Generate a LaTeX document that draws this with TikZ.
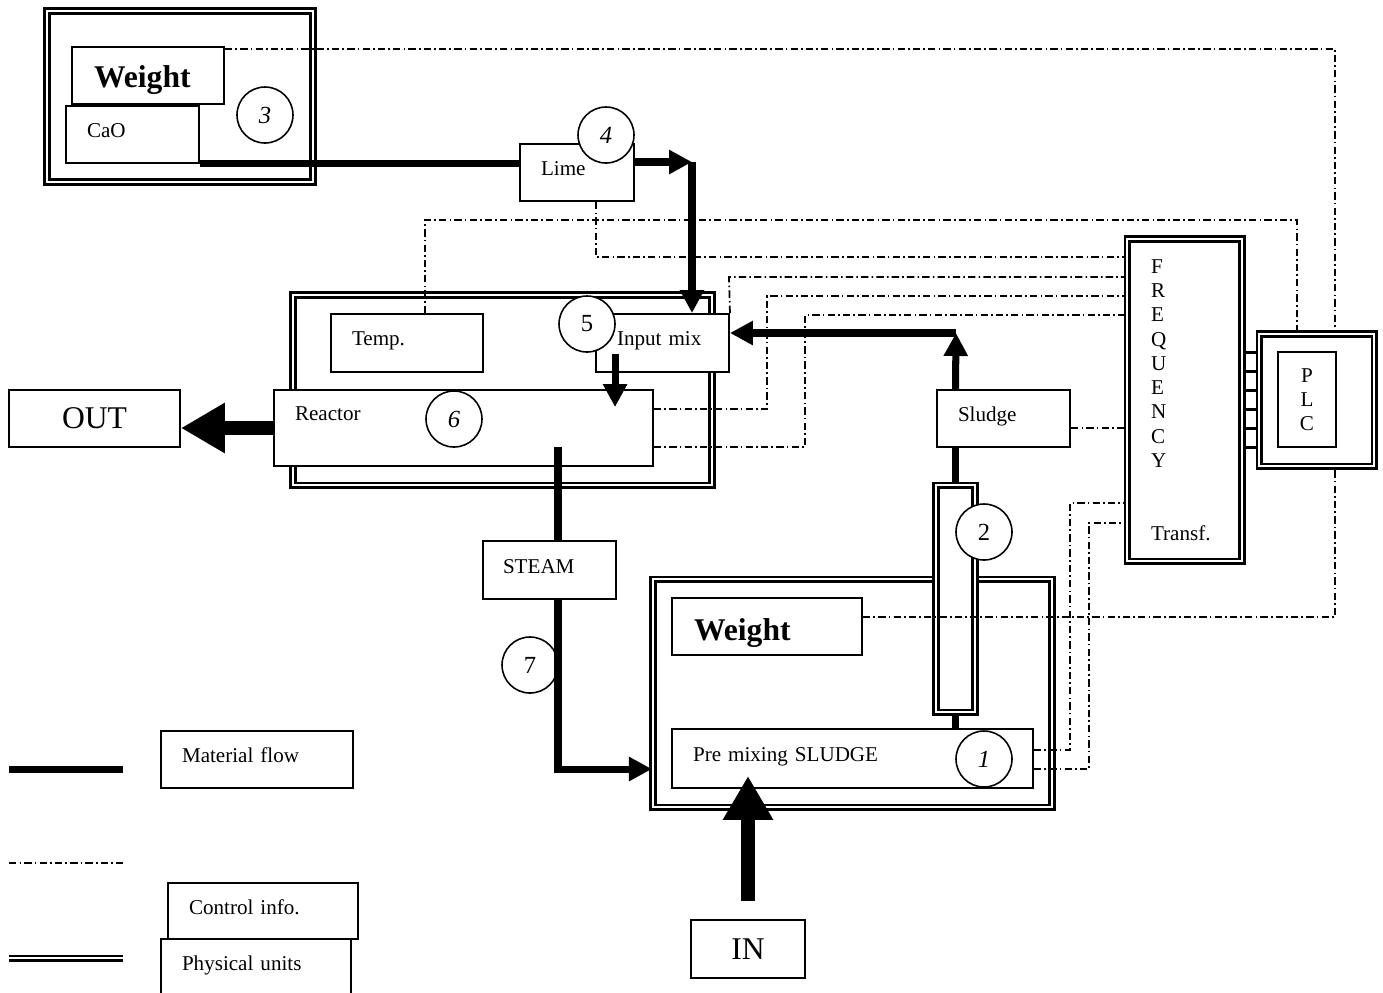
\documentclass[tikz,border=0pt]{standalone}
\usepackage{fontspec}
\setmainfont{Liberation Serif}
\usetikzlibrary{arrows.meta,calc}
\def \px {0.02cm}
\tikzstyle{unit} = [draw,line width=1.2pt,double,double distance=1.6pt]
\tikzstyle{box} = [draw,fill=white,line width=1.1pt,inner ysep=0pt,font=\fontsize{12}{13.8}\selectfont]
\tikzstyle{txtbox} = [box,align=left,inner xsep=0.42cm,text height=9pt,text depth=5.6pt]
\tikzstyle{num} = [draw,circle,fill=white,line width=0.9pt,minimum size=56*\px,inner sep=0pt,font=\fontsize{14}{16}\selectfont]
\tikzstyle{flow} = [line width=4pt]
\tikzstyle{bigflow} = [line width=8.5pt,-{Triangle[length=0.88cm,width=0.95cm]}]
\tikzstyle{ctrl} = [line width=1pt,dash pattern=on 4.2pt off 1.8pt on 0.9pt off 1.8pt]
\tikzstyle{wire} = [line width=1.3pt]

\begin{document}
\begin{tikzpicture}[x=\px,y=-\px,>={Triangle[length=0.46cm,width=0.46cm]}]
      \useasboundingbox (0,0) rectangle (1383,992);
      \node[unit,minimum width=266*\px,minimum height=171*\px] (caounit) at (180,96.5) {};
      \node[unit,minimum width=419*\px,minimum height=190*\px] (reacunit) at (502.5,390) {};
      \node[unit,minimum width=399*\px,minimum height=228*\px] (mixunit) at (852.5,693) {};
      \node[unit,fill=white,minimum width=39*\px,minimum height=227*\px] (column) at (955.5,598.5) {};
      \node[unit,fill=white,align=left,text width=1.34cm,inner xsep=0.48cm,minimum height=322*\px,font=\fontsize{12}{13.8}\selectfont] (fbox) at (1184.5,400) {F\\R\\E\\Q\\U\\E\\N\\C\\Y\\[27.6pt]Transf.};
      \node[unit,minimum width=115*\px,minimum height=132*\px] (plcunit) at (1316.5,400) {};
      \node[box,align=center,minimum width=58*\px,minimum height=95*\px,font=\fontsize{12}{13.6}\selectfont] (plc) at (1307,399.5) {P\\L\\C};
      \node[txtbox,text width=2.16cm,inner xsep=0.44cm,minimum height=57*\px,font=\fontsize{18}{20}\selectfont\bfseries,text height=13.7pt,text depth=0pt] (weighta) at (148,75.5) {Weight};
      \node[txtbox,text width=1.82cm,minimum height=57*\px] (cao) at (132.5,134.5) {CaO};
      \node[txtbox,text width=1.44cm,minimum height=57*\px] (lime) at (577,172.5) {Lime};
      \node[txtbox,text width=2.2cm,minimum height=58*\px] (temp) at (407,343) {Temp.};
      \node[txtbox,text width=1.82cm,minimum height=58*\px] (inputmix) at (662.5,343) {Input mix};
      \node[txtbox,text width=6.74cm,minimum height=76*\px,text depth=17pt] (reactor) at (463.5,428) {Reactor};
      \node[box,minimum width=171*\px,minimum height=57*\px,font=\fontsize{18}{20}\selectfont] (out) at (94.5,418.5) {OUT};
      \node[txtbox,text width=1.82cm,minimum height=57*\px] (sludge) at (1003.5,418.5) {Sludge};
      \node[txtbox,text width=1.86cm,inner xsep=0.4cm,minimum height=58*\px] (steam) at (549.5,570) {STEAM};
      \node[txtbox,text width=2.92cm,inner xsep=0.44cm,minimum height=57*\px,font=\fontsize{18}{20}\selectfont\bfseries,text height=16pt,text depth=0pt] (weightb) at (767,626.5) {Weight};
      \node[txtbox,text width=6.38cm,minimum height=59*\px] (premix) at (852.5,758.5) {Pre mixing SLUDGE};
      \node[box,minimum width=114*\px,minimum height=58*\px,font=\fontsize{18}{20}\selectfont] (in) at (748,949) {IN};
      \node[txtbox,text width=3.0cm,minimum height=57*\px] (matflow) at (257,759.5) {Material flow};
      \node[txtbox,text width=2.96cm,minimum height=56*\px] (ctrlinfo) at (263,911) {Control info.};
      \node[txtbox,text width=2.96cm,minimum height=57*\px] (physunits) at (256,967.5) {Physical units};
      \node[num] (n3) at (265,115) {\itshape 3};
      \node[num] (n4) at (606,135) {\itshape 4};
      \node[num] (n5) at (587,324) {5};
      \node[num] (n6) at (454,419) {\itshape 6};
      \node[num] (n7) at (530,665) {7};
      \node[num] (n2) at (984,532) {2};
      \node[num] (n1) at (984,759) {\itshape 1};
      \coordinate (limebend) at (692,162);
      \coordinate (steamtop) at (558,447);
      \coordinate (steambend) at (558,769);
      \coordinate (sludgebend) at (956,333);
      \draw[flow] (cao.south east) -- (cao.south east -| lime.west);
      \draw[flow,->] (lime.east |- limebend) -- (limebend);
      \draw[flow,->] (limebend) -- (limebend |- inputmix.north);
      \draw[flow,->] ($(inputmix.south west)+(20,-19)$) -- ($(inputmix.south west |- reactor.north)+(20,18)$);
      \draw[flow] (steamtop) -- (steamtop |- steam.north);
      \draw[flow,->] (steambend |- steam.south) -- (steambend) -- (steambend -| mixunit.west);
      \draw[flow] (column.south |- premix.north) -- (column.south);
      \draw[flow] (column.north) -- (column.north |- sludge.south);
      \draw[flow,->] (column.north |- sludge.north) -- (sludgebend);
      \draw[flow,->] (sludgebend) -- (sludgebend -| inputmix.east);
      \draw[bigflow] (reactor.west) -- (reactor.west -| out.east);
      \draw[bigflow] ($(in.north)+(0,-18)$) -- ($(in.north |- premix.south)+(0,-13)$);
      \coordinate (wtbend) at (1335,49);
      \coordinate (tempbend) at (1297,220);
      \coordinate (limectl) at (596,257);
      \coordinate (mixctl) at (729,277);
      \coordinate (reacctla) at (767,296);
      \coordinate (reacctlb) at (805,315);
      \coordinate (prectla) at (1070,503);
      \coordinate (prectlb) at (1089,523);
      \coordinate (wbend) at (1335,617);
      \draw[ctrl] (weighta.north east |- wtbend) -- (wtbend) -- (wtbend |- plcunit.north);
      \draw[ctrl] ($(temp.north)+(18,0)$) |- (tempbend) -- (tempbend |- plcunit.north);
      \draw[ctrl] (limectl |- lime.south) -- (limectl) -- (limectl -| fbox.west);
      \draw[ctrl] (inputmix.north east) -- (mixctl) -- (mixctl -| fbox.west);
      \draw[ctrl] ($(reactor.east)+(0,-19)$) -| (reacctla) -- (reacctla -| fbox.west);
      \draw[ctrl] ($(reactor.east)+(0,19)$) -| (reacctlb) -- (reacctlb -| fbox.west);
      \draw[ctrl] ($(sludge.east)+(0,9.5)$) -- ($(sludge.east -| fbox.west)+(0,9.5)$);
      \draw[ctrl] ($(premix.east)+(0,-8.5)$) -| (prectla) -- (prectla -| fbox.west);
      \draw[ctrl] ($(premix.east)+(0,10.5)$) -| (prectlb) -- (prectlb -| fbox.west);
      \draw[ctrl] (wbend -| weightb.east) -- (wbend) -- (wbend |- plcunit.south);
      \foreach \k in {-2.5,-1.5,-0.5,0.5,1.5,2.5}
        \draw[wire] ($(fbox.east)+(0,\k*19)$) -- ($(plcunit.west)+(0,\k*19)$);
      \draw[flow] (9,769) -- (123,769);
      \draw[ctrl] (9,863) -- (123,863);
      \draw[unit] (9,958) -- (123,958);
\end{tikzpicture}
\end{document}
